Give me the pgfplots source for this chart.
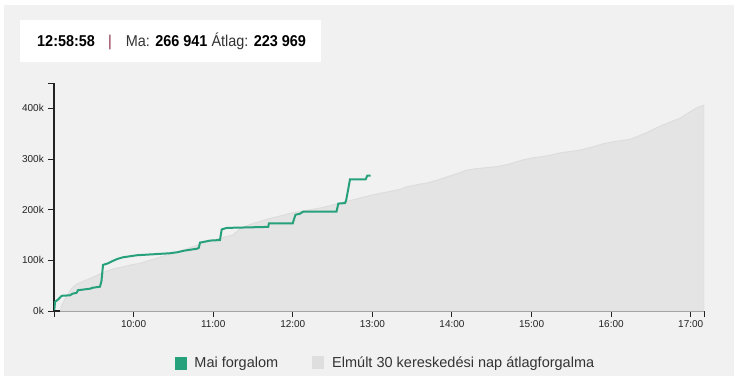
\documentclass[border=0pt]{standalone}
\usepackage{pgfplots}
\pgfplotsset{compat=1.18}
\usepackage{fontspec}
\setmainfont{Liberation Sans}
\newfontfamily\condfont[FakeStretch=0.92]{Liberation Sans}
\definecolor{bg}{HTML}{F1F1F1}
\definecolor{areafill}{HTML}{E4E4E4}
\definecolor{areaedge}{HTML}{DDDDDD}
\definecolor{mygreen}{HTML}{26A17B}
\definecolor{legendgray}{HTML}{DEDEDE}
\definecolor{sepred}{HTML}{8C2D46}
\definecolor{txt}{HTML}{333333}
\definecolor{axisc}{HTML}{222222}
\begin{document}
\begin{tikzpicture}[x=1bp,y=1bp]
\fill[white] (0,0) rectangle (740,382);
\fill[bg] (4,6) rectangle (734,377);
\fill[white] (20,320) rectangle (321,362);
\node[anchor=base west, inner sep=0pt, font=\condfont\fontsize{15.7bp}{18bp}\selectfont, text=black] at (37,335.3) {\textbf{12:58:58}};
\node[anchor=base, inner sep=0pt, font=\condfont\fontsize{15.7bp}{18bp}\selectfont, text=sepred] at (110,335.3) {|};
\node[anchor=base west, inner sep=0pt, font=\condfont\fontsize{15.7bp}{18bp}\selectfont, text=txt] at (125.7,335.3) {Ma: \textbf{\color{black}266 941} Átlag: \textbf{\color{black}223 969}};
\begin{axis}[
  at={(54bp,71bp)}, anchor=south west,
  scale only axis, width=650bp, height=228bp,
  xmin=9, xmax=17.1667, ymin=0, ymax=450,
  axis lines=left,
  axis line style={-, axisc, line width=1.2bp},
  tick style={axisc, line width=1bp},
  tick align=outside, major tick length=6bp,
  xtick={10,11,12,13,14,15,16,17},
  xticklabels={10:00,11:00,12:00,13:00,14:00,15:00,16:00,17:00},
  ytick={0,100,200,300,400},
  yticklabels={0k,100k,200k,300k,400k},
  extra x ticks={9,17.1667}, extra x tick labels={},
  extra y ticks={450}, extra y tick labels={},
  extra tick style={major tick length=6bp, tick style={axisc, line width=1bp}},
  ticklabel style={font=\fontsize{10bp}{12bp}\selectfont, text=axisc},
  yticklabel style={inner sep=0pt, anchor=east, xshift=-4bp},
  xticklabel style={inner sep=0pt, anchor=north, yshift=-3bp},
  legend style={at={(0.1862,-0.228)}, anchor=west, draw=none, fill=none,
    inner sep=0pt, outer sep=0pt,
    font=\fontsize{14.5bp}{17bp}\selectfont, text=txt,
    nodes={inner sep=0pt, anchor=west},
    /tikz/every odd column/.append style={column sep=8bp},
    /tikz/every even column/.append style={column sep=34bp}},
  legend columns=2,
]
\addlegendimage{legend image code/.code={\fill[mygreen] (0bp,-6bp) rectangle (11bp,6bp);}}
\addlegendentry{Mai forgalom}
\addplot[fill=areafill, draw=areaedge, line width=1bp,
  legend image code/.code={\fill[legendgray] (0bp,-6bp) rectangle (11bp,6bp);}]
coordinates {
(9.084,0) (9.086,6) (9.12,18) (9.16,30) (9.22,44) (9.285,53) (9.36,58) (9.452,64)
(9.55,71) (9.662,79) (9.77,84) (9.867,87) (9.97,91) (10.08,94) (10.2,100)
(10.35,107) (10.495,114) (10.62,120) (10.75,127) (10.87,134) (11.0,140)
(11.12,145) (11.25,150) (11.3,157) (11.34,163) (11.45,170) (11.59,177)
(11.75,184) (11.88,189) (12.0,194) (12.15,198) (12.34,203) (12.47,208)
(12.59,213) (12.75,219) (12.9,225) (13.0,229) (13.095,232) (13.22,236)
(13.347,240) (13.43,245) (13.55,249) (13.7,253) (13.85,260) (14.0,268)
(14.1,273) (14.185,278) (14.3,281) (14.45,283) (14.56,285) (14.7,289)
(14.8,294) (14.89,298) (15.0,302) (15.15,305) (15.25,308) (15.357,312)
(15.5,315) (15.62,318) (15.77,324) (15.9,330) (16.02,334) (16.12,336)
(16.236,339) (16.34,345) (16.446,352) (16.55,360) (16.65,367) (16.76,374)
(16.86,380) (16.94,388) (17.01,395) (17.08,401) (17.153,406) (17.1667,406)
} \closedcycle;
\addlegendentry{Elmúlt 30 kereskedési nap átlagforgalma}
\addplot[mygreen, line width=2bp, forget plot] coordinates {
(9.004,2) (9.013,18) (9.054,23) (9.097,30) (9.201,31) (9.23,34) (9.285,36)
(9.30,41) (9.452,44) (9.49,46) (9.578,48) (9.597,60) (9.616,91) (9.678,94)
(9.741,99) (9.80,103) (9.867,106) (10.039,110) (10.25,112) (10.457,114)
(10.55,116) (10.633,119) (10.80,123) (10.82,125) (10.834,135) (10.90,137)
(10.96,139) (11.085,140) (11.107,161) (11.17,164) (11.692,166) (11.70,173)
(12.0,173) (12.013,180) (12.034,190) (12.09,192) (12.13,196) (12.549,196)
(12.572,212) (12.656,213) (12.67,218) (12.69,235) (12.719,260) (12.916,260)
(12.936,267) (12.979,267)
};
\end{axis}
\end{tikzpicture}
\end{document}
